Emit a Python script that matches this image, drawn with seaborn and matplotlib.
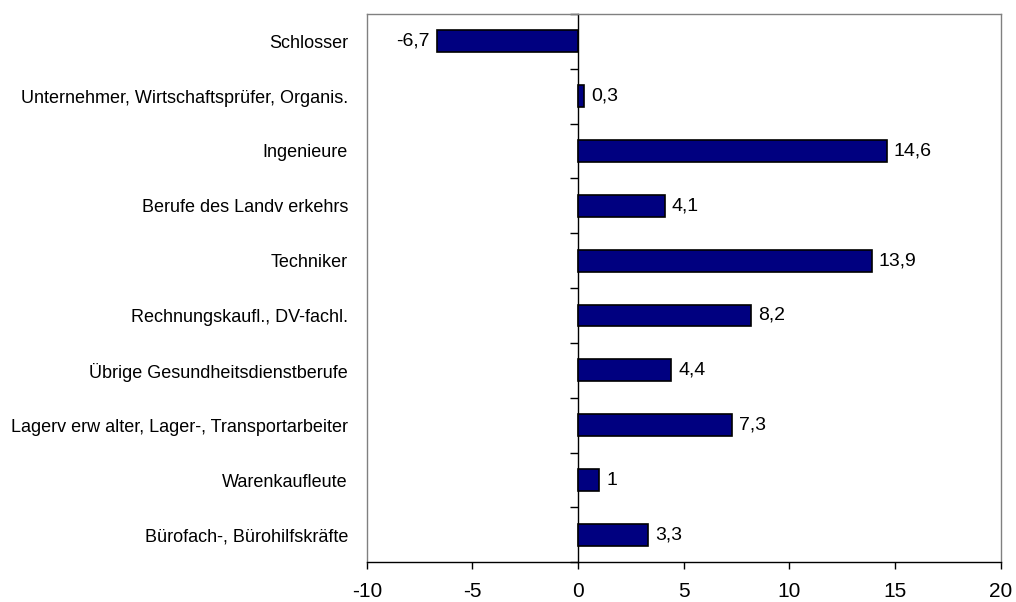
import matplotlib
matplotlib.use("Agg")
import matplotlib.pyplot as plt
import seaborn as sns
import pandas as pd

# data
berufe = [
    "Schlosser",
    "Unternehmer, Wirtschaftsprüfer, Organis.",
    "Ingenieure",
    "Berufe des Landv erkehrs",
    "Techniker",
    "Rechnungskaufl., DV-fachl.",
    "Übrige Gesundheitsdienstberufe",
    "Lagerv erw alter, Lager-, Transportarbeiter",
    "Warenkaufleute",
    "Bürofach-, Bürohilfskräfte",
]
werte = [-6.7, 0.3, 14.6, 4.1, 13.9, 8.2, 4.4, 7.3, 1, 3.3]
x_ticks = [-10, -5, 0, 5, 10, 15, 20]

sns.set_style("white")
plt.rcParams["font.family"] = ["Liberation Sans", "DejaVu Sans"]
plt.rcParams["text.color"] = "black"
plt.rcParams["xtick.color"] = "black"
plt.rcParams["ytick.color"] = "black"

df = pd.DataFrame({"Beruf": berufe, "Wert": werte})

fig = plt.figure(figsize=(10.16, 6.02), dpi=100)
ax = fig.add_axes([0.361, 0.066, 0.624, 0.911])

sns.barplot(data=df, x="Wert", y="Beruf", orient="h", color="#000080",
            edgecolor="black", linewidth=1.2, width=0.4, saturation=1, ax=ax)

ax.set_xlim(-10, 20)
ax.set_ylim(len(berufe) - 0.5, -0.5)
ax.set_xticks(x_ticks)
ax.set_xticklabels([str(t) for t in x_ticks], fontsize=15)
ax.set_xlabel("")
ax.set_ylabel("")
ax.tick_params(axis="x", direction="out", length=5, width=1, color="black", pad=9, bottom=True)
ax.tick_params(axis="y", length=0, pad=13.5, labelsize=13)

for side in ["left", "top", "right"]:
    ax.spines[side].set_color("#808080")
    ax.spines[side].set_linewidth(1)
ax.spines["bottom"].set_color("black")
ax.spines["bottom"].set_linewidth(1)

# zero line with tick marks between categories
sec = ax.secondary_yaxis(1 / 3)
sec.set_yticks([i + 0.5 for i in range(-1, len(berufe))])
sec.set_yticklabels([])
sec.tick_params(axis="y", direction="out", length=5.5, width=1, color="black")
sec.spines["left"].set_color("black")
sec.spines["left"].set_linewidth(1)

labels = [f"{v:g}".replace(".", ",") for v in werte]
ax.bar_label(ax.containers[0], labels=labels, padding=5, fontsize=14)

fig.savefig("out.png", dpi=100)
